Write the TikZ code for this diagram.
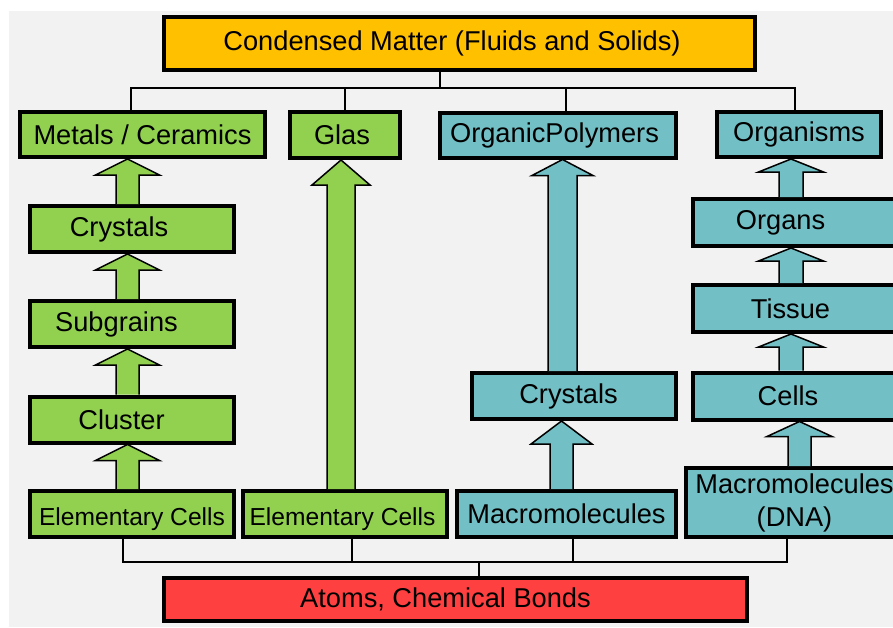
\documentclass[tikz,border=0pt]{standalone}
\usepackage{fontspec}
\setmainfont{Liberation Sans}
\usetikzlibrary{calc}
\definecolor{matter}{HTML}{FFC000}
\definecolor{solid}{HTML}{92D050}
\definecolor{organic}{HTML}{72BFC5}
\definecolor{bonds}{HTML}{FF4040}
\definecolor{canvas}{HTML}{F2F2F2}
% fat arrow from the top of #2 up to the bottom of #3, axis at x=#4
\newcommand\blockup[7]{%
  \path (#4,0 |- #3.south) coordinate (tip) (#4,0 |- #2.north) coordinate (foot);
  \draw[fat,fill=#1] ($(foot)+(-#5,0)$) -- ($(tip)+(-#5,#7)$) -- ($(tip)+(-#6,#7)$)
    -- (tip) -- ($(tip)+(#6,#7)$) -- ($(tip)+(#5,#7)$) -- ($(foot)+(#5,0)$);}
\begin{document}
\begin{tikzpicture}[x=0.02cm,y=-0.02cm,font=\fontsize{15.5}{18.8}\selectfont,
  box/.style={draw,line width=0.08cm,inner sep=0pt,align=center},
  wh/.style 2 args={minimum width=#1*0.02cm-0.08cm,minimum height=#2*0.02cm-0.08cm},
  pull/.style={execute at end node={\hspace{#1}}},
  smaller/.style={font=\fontsize{14}{16.8}\selectfont,text height=0.56cm},
  fat/.style={line width=0.03cm,line join=miter},
  bus/.style={line width=0.04cm,line join=miter}]
  \useasboundingbox (0,0) rectangle (893,627);
  \fill[canvas] (9,11) rectangle (893,627);
  \coordinate (upper bus) at (0,88);
  \coordinate (lower bus) at (0,562);
  % top and bottom
  \node[box,fill=matter,wh={595}{57},pull=0.3cm] (condensed) at (459.5,43.5) {Condensed Matter (Fluids and Solids)};
  \node[box,fill=bonds,wh={587}{47},pull=0.4cm] (atoms) at (455.5,599.5) {Atoms, Chemical Bonds};
  % upper row
  \node[box,fill=solid,wh={249}{49}] (metals) at (142.5,134.5) {Metals / Ceramics};
  \node[box,fill=solid,wh={114}{50},pull=0.12cm] (glas) at (345,135) {Glas};
  \node[box,fill=organic,wh={240}{49},pull=0.14cm] (polymers) at (558,135) {OrganicPolymers};
  \node[box,fill=organic,wh={168}{49}] (organisms) at (799,134.5) {Organisms};
  % metals column
  \foreach \name/\ypos/\shift/\text in {crystalsL/229/0.52/Crystals,subgrains/324/0.62/Subgrains,cluster/419.5/0.42/Cluster}
    \node[box,fill=solid,wh={208}{50},pull=\shift cm] (\name) at (132,\ypos) {\text};
  \node[box,fill=solid,wh={208}{50},smaller] (elementsL) at (132,514) {Elementary Cells};
  \node[box,fill=solid,wh={208}{50},smaller,pull=0.1cm] (elementsG) at (345,514) {Elementary Cells};
  % polymer column
  \node[box,fill=organic,wh={208}{50},pull=0.22cm] (crystalsR) at (574,396) {Crystals};
  \node[box,fill=organic,wh={223}{50}] (macro) at (566.5,514) {Macromolecules};
  % organism column
  \foreach \name/\ypos/\shift/\text in {organs/222.5/0.6/Organs,tissue/308.5/0.2/Tissue,cells/396/0.3/Cells}
    \node[box,fill=organic,wh={209}{51},pull=\shift cm] (\name) at (795.5,\ypos) {\text};
  \node[box,fill=organic,wh={221}{73}] (dna) at (794.5,502.5) {Macromolecules\\(DNA)};
  % fat arrows
  \foreach \low/\high in {crystalsL/metals,subgrains/crystalsL,cluster/subgrains,elementsL/cluster}
    \blockup{solid}{\low}{\high}{127.5}{11.5}{32}{16};
  \blockup{solid}{elementsG}{glas}{341}{14}{29}{25};
  \blockup{organic}{crystalsR}{polymers}{562.5}{14.5}{30.5}{16};
  \blockup{organic}{macro}{crystalsR}{561.5}{11.5}{30.5}{23};
  \foreach \low/\high in {organs/organisms,tissue/organs,cells/tissue}
    \blockup{organic}{\low}{\high}{791}{12}{32.5}{13};
  \blockup{organic}{dna}{cells}{799.5}{11.5}{32.5}{15};
  % tree lines
  \draw[bus] (condensed.south -| 440,0) -- (440,0 |- upper bus);
  \draw[bus] (131,0 |- metals.north) |- (795,0 |- upper bus) -- (795,0 |- organisms.north);
  \draw[bus] (glas.north) -- (glas.north |- upper bus);
  \draw[bus] (566,0 |- polymers.north) -- (566,0 |- upper bus);
  \draw[bus] (123,0 |- elementsL.south) |- (787,0 |- lower bus) -- (787,0 |- dna.south);
  \draw[bus] (352,0 |- elementsG.south) -- (352,0 |- lower bus);
  \draw[bus] (573,0 |- macro.south) -- (573,0 |- lower bus);
  \draw[bus] (479,0 |- atoms.north) -- (479,0 |- lower bus);
\end{tikzpicture}
\end{document}
